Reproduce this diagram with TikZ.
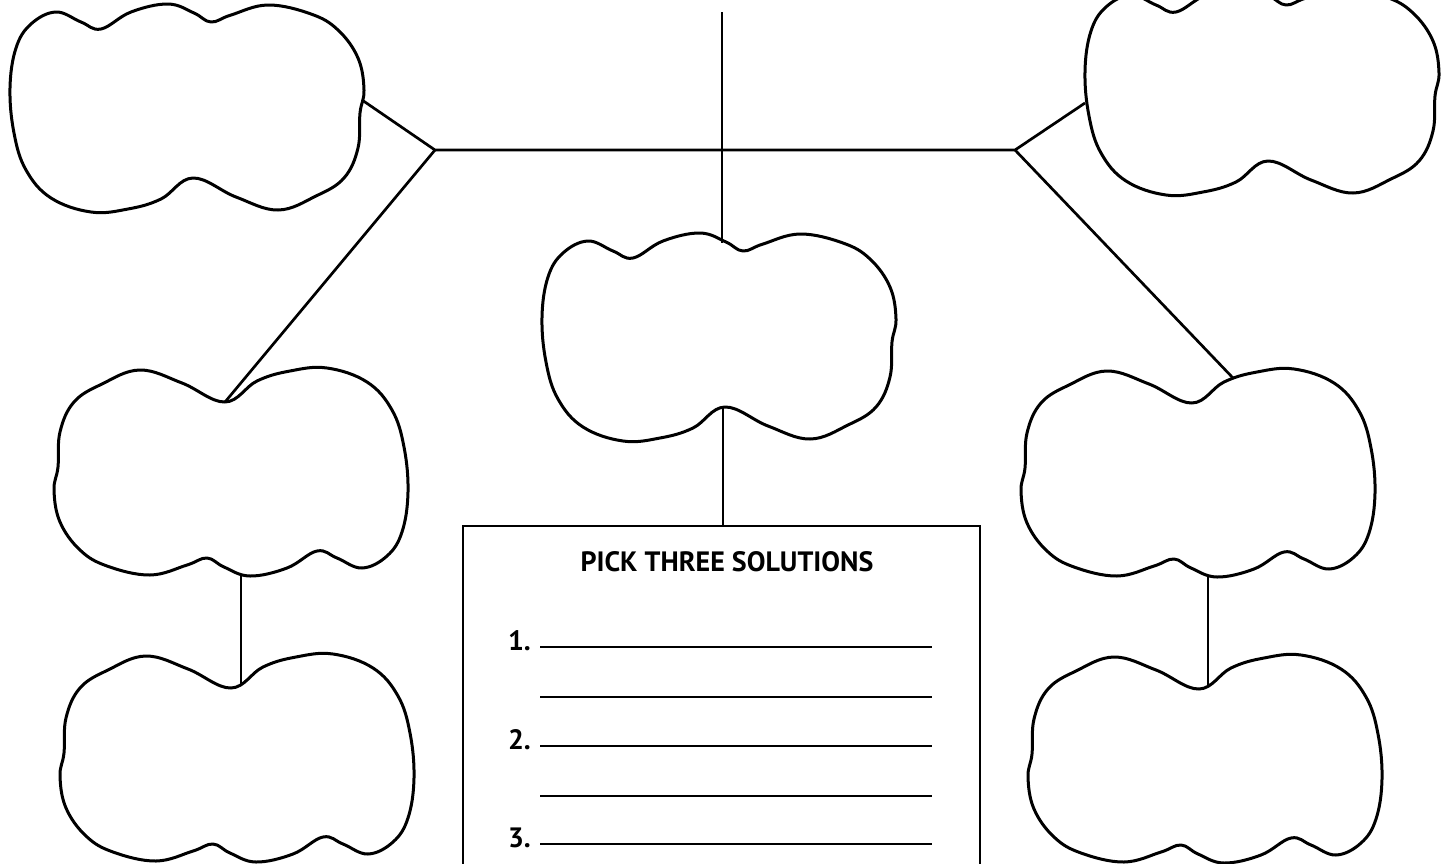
\documentclass[tikz,border=0pt]{standalone}
\usepackage{fontspec}
\setmainfont{PT Sans}
\tikzset{
  cloud/.style={line width=3pt, line join=round},
  link/.style={line width=2.7pt},
  blob/.pic={
    \draw[cloud] plot[smooth cycle, tension=0.65] coordinates {
      (-7,-70) (25,-91) (58,-101) (95,-104) (135,-90) (160,-62)
      (172,-25) (176,20) (170,60) (155,84) (130,96) (105,86) (85,79)
      (55,96) (18,104) (-8,95) (-25,86) (-45,93) (-82,103) (-125,94)
      (-152,78) (-172,50) (-178,18) (-174,-5) (-172,-40) (-158,-70)
      (-130,-88) (-92,-102) (-50,-89)};
  }
}
\begin{document}
\begin{tikzpicture}[x=1pt, y=-1pt, every node/.style={font=\bfseries\fontsize{28}{32}\selectfont}]
    \useasboundingbox (0,0) rectangle (1453,863);
    \clip (0,0) rectangle (1453,863);

    % --- the seven clouds ------------------------------------------------
    \pic[rotate=180] at (186,108) {blob};   % top left
    \pic[rotate=180] at (1261,91) {blob};   % top right
    \pic[rotate=180] at (718,337) {blob};   % centre
    \pic at (232,472) {blob};               % middle left
    \pic at (238,758) {blob};               % bottom left
    \pic at (1199,473) {blob};              % middle right
    \pic at (1206,759) {blob};              % bottom right

    % attachment points on the clouds
    \coordinate (tl-att) at (362,100);
    \coordinate (tr-att) at (1085,103);
    \coordinate (ml-top) at (225,402);
    \coordinate (ml-bot) at (241,576);
    \coordinate (bl-top) at (241,686);
    \coordinate (mr-top) at (1233,378);
    \coordinate (mr-bot) at (1208,577);
    \coordinate (br-top) at (1208,686);
    \coordinate (cc-top) at (722,243);
    \coordinate (cc-bot) at (723,408);

    % --- frame of connecting lines ---------------------------------------
    \coordinate (jl) at (435,150);
    \coordinate (jr) at (1015,150);
    \coordinate (stem) at (722,12);
    \draw[link] (tl-att) -- (jl) -- (jr) -- (tr-att);
    \draw[link] (jl) -- (ml-top);
    \draw[link] (jr) -- (mr-top);
    \draw[link] (stem) -- (cc-top);
    \draw[link] (ml-bot) -- (bl-top);
    \draw[link] (mr-bot) -- (br-top);

    % --- answer box --------------------------------------------------------
    \draw[link] (463,880) -- (463,526) -- (980,526) -- (980,880);
    \coordinate (box-top) at (723,526);
    \draw[link] (cc-bot) -- (box-top);

    \node[anchor=base] (title) at (727,571) {PICK THREE SOLUTIONS};

    \node[anchor=base east, inner sep=0pt] (n1) at (531,650) {1.};
    \node[anchor=base east, inner sep=0pt] (n2) at (531,749) {2.};
    \node[anchor=base east, inner sep=0pt] (n3) at (531,847) {3.};

    % writing lines
    \draw[link] (540,647) -- (932,647);
    \draw[link] (540,697) -- (932,697);
    \draw[link] (540,746) -- (932,746);
    \draw[link] (540,796) -- (932,796);
    \draw[link] (540,844) -- (932,844);
  \end{tikzpicture}
\end{document}
